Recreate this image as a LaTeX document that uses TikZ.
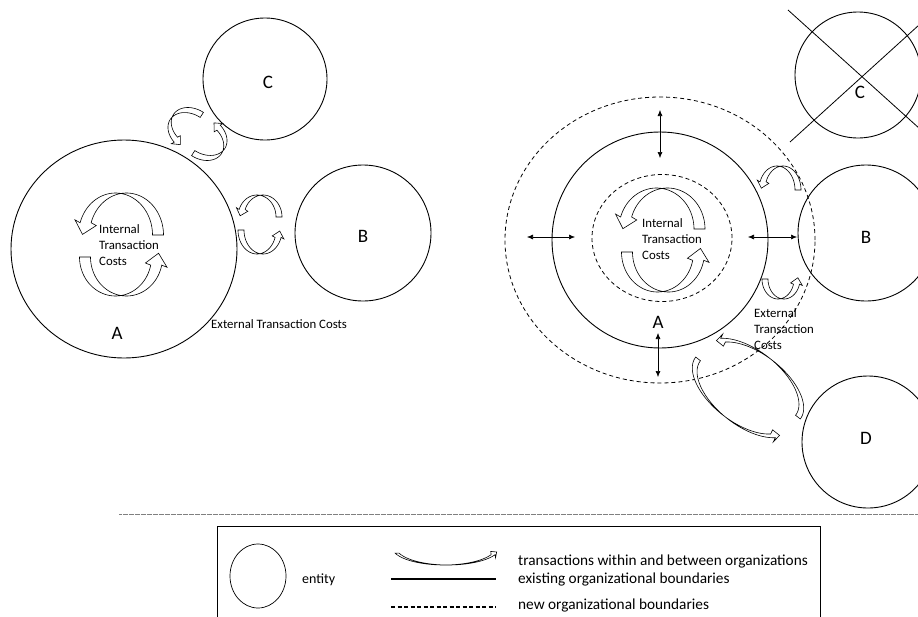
\documentclass[tikz,border=0pt]{standalone}
\usepackage{fontspec}
\setmainfont{Carlito}
\usetikzlibrary{shapes.geometric,arrows.meta}
% curved block arrow: cx, cy, rx, ry, rotation, start angle, end angle, width
\newcommand{\carrow}[8]{%
\begin{scope}[shift={(#1,#2)},rotate=#5]
\pgfmathsetmacro{\cAhw}{#8/2}
\pgfmathsetmacro{\cAmx}{#3*cos(#7)}
\pgfmathsetmacro{\cAmy}{#4*sin(#7)}
\pgfmathsetmacro{\cAsg}{(#7>#6)?1:-1}
\pgfmathsetmacro{\cAtx}{-1*#3*sin(#7)*\cAsg}
\pgfmathsetmacro{\cAty}{#4*cos(#7)*\cAsg}
\pgfmathsetmacro{\cAtl}{veclen(\cAtx,\cAty)}
\pgfmathsetmacro{\cAux}{1.1*#8*(\cAtx)/\cAtl}
\pgfmathsetmacro{\cAuy}{1.1*#8*(\cAty)/\cAtl}
\pgfmathsetmacro{\cAnx}{(\cAty)/\cAtl}
\pgfmathsetmacro{\cAny}{-1*(\cAtx)/\cAtl}
\pgfmathsetmacro{\cAfs}{(\cAnx<0)?-1:1}
\pgfmathsetmacro{\cAbx}{#8*\cAfs*(\cAnx)}
\pgfmathsetmacro{\cAby}{#8*\cAfs*(\cAny)}
\filldraw[fill=white,line width=0.6pt,line join=miter]
 plot[domain=#6:#7,samples=60] ({\cAhw+#3*cos(\x)},{#4*sin(\x)})
 -- ({\cAmx+(\cAbx)},{\cAmy+(\cAby)})
 -- ({\cAmx+(\cAux)},{\cAmy+(\cAuy)})
 -- ({\cAmx-(\cAbx)},{\cAmy-(\cAby)})
 -- plot[domain=#7:#6,samples=60] ({-\cAhw+#3*cos(\x)},{#4*sin(\x)})
 -- cycle;
\end{scope}}
\begin{document}
\begin{tikzpicture}[x=1pt,y=-1pt,
  ent/.style={draw, ellipse, inner sep=0pt, line width=0.9pt},
  newb/.style={draw, ellipse, inner sep=0pt, line width=0.8pt, dash pattern=on 4pt off 3pt},
  lbl/.style={font=\fontsize{19}{22}\selectfont, inner sep=0pt},
  itc/.style={font=\fontsize{12.8}{15.8}\selectfont, align=left, inner sep=0pt, anchor=west},
  lgt/.style={font=\fontsize{15.3}{18}\selectfont, inner sep=0pt, anchor=west},
  dbl/.style={{Latex[length=6pt,width=5pt]}-{Latex[length=6pt,width=5pt]}, line width=0.6pt},
  ]
\useasboundingbox (0,0) rectangle (918,616);
\clip (0,0) rectangle (918,616);
% ---------- left diagram ----------
\node[ent, minimum width=226pt, minimum height=218pt] (LA) at (124,249) {};
\node[ent, minimum width=124pt, minimum height=122pt] (LC) at (265,79) {};
\node[ent, minimum width=136pt, minimum height=136pt] (LB) at (363,233) {};
\node[lbl] (LAl) at (117,333) {A};
\node[lbl] (LBl) at (363,236) {B};
\node[lbl] (LCl) at (268,82) {C};
\carrow{121}{235}{37}{42}{0}{0}{-163}{11}
\carrow{121}{257}{36}{39}{0}{180}{12}{11}
\node[itc] (LIT) at (99,245) {Internal\\Transaction\\Costs};
\carrow{260}{217}{19}{22}{0}{0}{-160}{6}
\carrow{260}{230}{19}{24}{0}{180}{18}{6}
\carrow{192}{130}{18}{24}{57}{0}{-160}{6}
\carrow{203}{138}{18}{24}{57}{180}{18}{6}
\node[itc] (LET) at (211,324) {External Transaction Costs};
% ---------- right diagram ----------
\node[newb, minimum width=310pt, minimum height=286pt] (RO) at (660,240) {};
\node[ent, minimum width=216pt, minimum height=216pt] (RA) at (660,240) {};
\node[newb, minimum width=140pt, minimum height=127pt] (RI) at (662,238) {};
\node[ent, minimum width=126pt, minimum height=126pt] (RC) at (858,75) {};
\node[ent, minimum width=136pt, minimum height=136pt] (RB) at (866,233) {};
\node[ent, minimum width=132pt, minimum height=132pt] (RD) at (868,442) {};
\node[lbl] (RAl) at (658,322) {A};
\node[lbl] (RBl) at (866,237) {B};
\node[lbl] (RCl) at (860,92) {C};
\node[lbl] (RDl) at (866,438) {D};
\coordinate (x1a) at (788,10); \coordinate (x1b) at (930,138);
\coordinate (x2a) at (790,142); \coordinate (x2b) at (930,15);
\draw[line width=0.8pt] (x1a) -- (x1b);
\draw[line width=0.8pt] (x2a) -- (x2b);
\coordinate (l1) at (527,237); \coordinate (l2) at (575,237);
\coordinate (r1) at (748,237); \coordinate (r2) at (797,237);
\coordinate (t1) at (660,110); \coordinate (t2) at (660,158);
\coordinate (b1) at (658,333); \coordinate (b2) at (658,377);
\draw[dbl] (l1) -- (l2);
\draw[dbl] (r1) -- (r2);
\draw[dbl] (t1) -- (t2);
\draw[dbl] (b1) -- (b2);
\carrow{662}{229}{37.5}{41}{0}{0}{-163}{11}
\carrow{663}{252}{36}{40}{0}{180}{12}{11}
\node[itc] (RIT) at (642,239) {Internal\\Transaction\\Costs};
\carrow{780}{190}{18}{24}{0}{0}{-160}{6}
\carrow{781}{279}{16}{20}{0}{180}{15}{6}
\node[itc] (RET) at (754,329) {External\\Transaction\\Costs};
\carrow{753}{382}{57}{29}{-38}{0}{-150}{6}
\carrow{743}{394}{57}{29}{-38}{180}{30}{6}
% ---------- separator and legend ----------
\coordinate (s1) at (119,514); \coordinate (s2) at (918,514);
\draw[gray, line width=0.5pt, dash pattern=on 0.6pt off 0.6pt] (s1) -- (s2);
\coordinate (bx1) at (217,526); \coordinate (bx2) at (820,630);
\draw[line width=0.9pt] (bx1) rectangle (bx2);
\node[ent, line width=0.7pt, minimum width=56pt, minimum height=64pt] (LE) at (258,576) {};
\node[font=\fontsize{14}{17}\selectfont, anchor=west, inner sep=0pt] (LEt) at (302,580) {entity};
\carrow{446}{547}{52}{18}{0}{160}{25}{4}
\coordinate (so1) at (391,579); \coordinate (so2) at (496,579);
\draw[line width=2pt] (so1) -- (so2);
\coordinate (da1) at (391,607); \coordinate (da2) at (496,607);
\draw[line width=1.6pt, dash pattern=on 4pt off 2.5pt] (da1) -- (da2);
\node[lgt] (T1) at (518,561) {transactions within and between organizations};
\node[lgt] (T2) at (518,579) {existing organizational boundaries};
\node[lgt] (T3) at (518,605) {new organizational boundaries};
\end{tikzpicture}
\end{document}
